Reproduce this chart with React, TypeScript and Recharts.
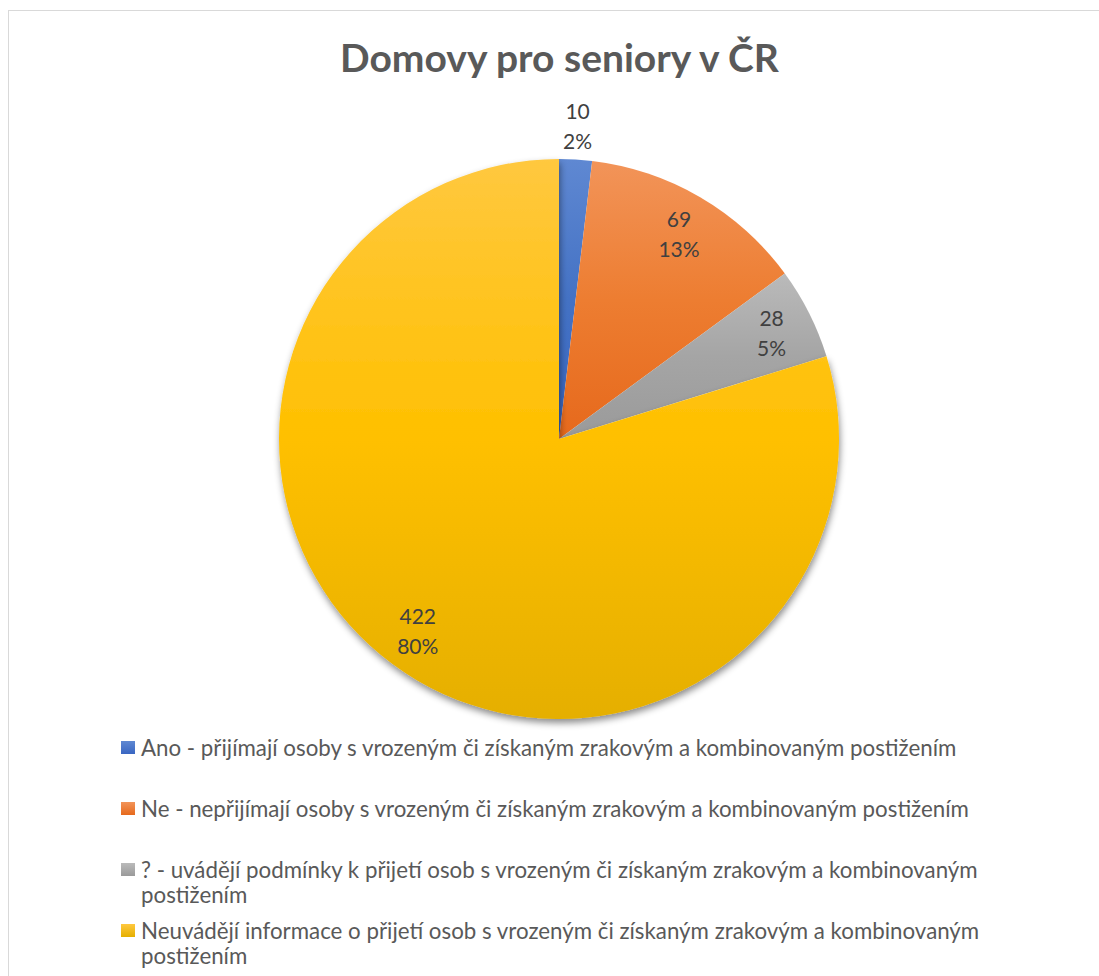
import { PieChart, Pie, Cell, Legend } from "recharts";

const categories = [
  "Ano - přijímají osoby s vrozeným či získaným zrakovým a kombinovaným postižením",
  "Ne - nepřijímají osoby s vrozeným či získaným zrakovým a kombinovaným postižením",
  "? - uvádějí podmínky k přijetí osob s vrozeným či získaným zrakovým a kombinovaným postižením",
  "Neuvádějí informace o přijetí osob s vrozeným či získaným zrakovým a kombinovaným postižením",
];
const counts = [10, 69, 28, 422];
const title = "Domovy pro seniory v ČR";

// top / bottom colours of each slice gradient
const gradTop = ["#5F88D2", "#F29459", "#BABABA", "#FFC83F"];
const gradMid = ["#4472C4", "#ED7D31", "#A5A5A5", "#FFC000"];
const gradBottom = ["#3966C2", "#E6691C", "#9A9A9A", "#E5AF00"];

const font = "Lato, 'Noto Sans', sans-serif";
const data = categories.map((name, i) => ({ name, value: counts[i] }));

const RAD = Math.PI / 180;

function renderLabel(p: any) {
  const { cx, cy, midAngle, outerRadius, value, percent } = p;
  const r = percent < 0.04 ? outerRadius * 1.12 : outerRadius * 0.85;
  const x = cx + r * Math.cos(-midAngle * RAD);
  const y = cy + r * Math.sin(-midAngle * RAD);
  return (
    <text
      x={x}
      y={y}
      textAnchor="middle"
      fill="#404040"
      style={{ fontFamily: font, fontSize: 21 }}
    >
      <tspan x={x} y={y - 15} dominantBaseline="central">{value}</tspan>
      <tspan x={x} y={y + 15} dominantBaseline="central">{`${Math.round(percent * 100)}%`}</tspan>
    </text>
  );
}

function LegendBox() {
  return (
    <div style={{ fontFamily: font, fontSize: 22.3, color: "#595959", lineHeight: "25px" }}>
      {categories.map((c, i) => (
        <div key={c} style={{ display: "flex", height: 61, alignItems: "flex-start" }}>
          <div
            style={{
              width: 14,
              height: 13,
              marginTop: 6,
              marginRight: 6,
              flexShrink: 0,
              background: `linear-gradient(${gradTop[i]}, ${gradBottom[i]})`,
            }}
          />
          <div style={{ width: 850 }}>{c}</div>
        </div>
      ))}
    </div>
  );
}

export default function App() {
  return (
    <div style={{ position: "absolute", left: 0, top: 0, width: 1099, height: 976, background: "#fff", overflow: "hidden" }}>
      <div
        style={{
          position: "absolute",
          left: 8,
          top: 10,
          width: 1100,
          height: 1000,
          border: "1px solid #D9D9D9",
          boxSizing: "border-box",
        }}
      />
      <div
        style={{
          position: "absolute",
          left: 0,
          top: 34,
          width: 1119,
          textAlign: "center",
          fontFamily: font,
          fontWeight: 700,
          fontSize: 39,
          color: "#595959",
        }}
      >
        {title}
      </div>
      <div style={{ position: "absolute", left: 0, top: 0 }}>
        <PieChart width={1099} height={976} margin={{ top: 0, right: 0, bottom: 0, left: 0 }}>
          <defs>
            {gradTop.map((c, i) => (
              <linearGradient key={i} id={`slice${i}`} x1="0" y1="0" x2="0" y2="1">
                <stop offset="0%" stopColor={c} />
                <stop offset="50%" stopColor={gradMid[i]} />
                <stop offset="100%" stopColor={gradBottom[i]} />
              </linearGradient>
            ))}
            <filter id="pieShadow" x="-10%" y="-10%" width="120%" height="120%">
              <feDropShadow dx="1" dy="4" stdDeviation="3.5" floodColor="#000" floodOpacity="0.45" />
            </filter>
          </defs>
          <Pie
            data={data}
            dataKey="value"
            nameKey="name"
            cx={559}
            cy={439}
            outerRadius={280}
            startAngle={90}
            endAngle={-270}
            stroke="none"
            label={renderLabel}
            labelLine={false}
            isAnimationActive={false}
          >
            {data.map((d, i) => (
              <Cell key={d.name} fill={`url(#slice${i})`} filter={i === 3 ? "url(#pieShadow)" : undefined} />
            ))}
          </Pie>
          <Legend
            content={() => <LegendBox />}
            wrapperStyle={{ left: 121, top: 735, width: 900 }}
          />
        </PieChart>
      </div>
    </div>
  );
}
